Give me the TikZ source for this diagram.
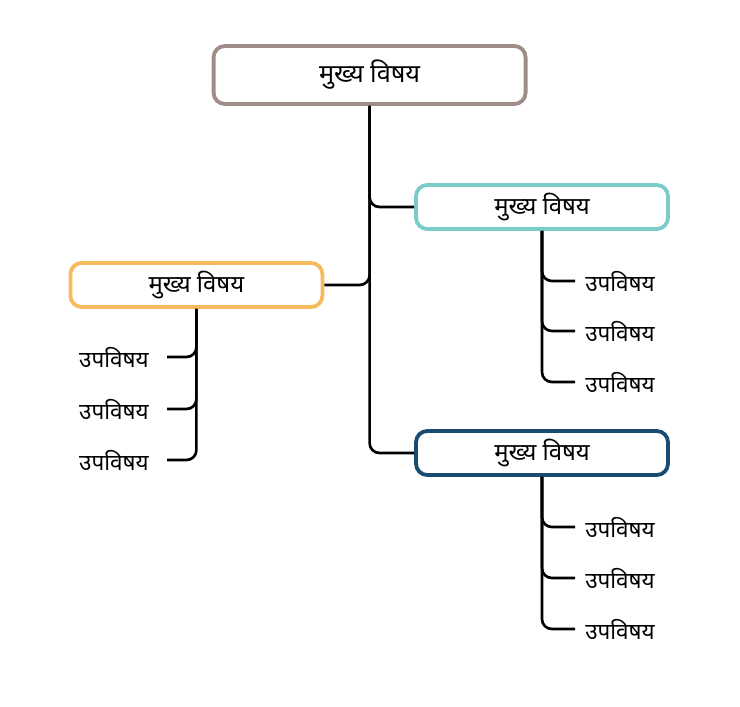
\documentclass[tikz,border=0pt]{standalone}
\usepackage{fontspec}
\usepackage{tikz}
\usetikzlibrary{positioning}
\newfontfamily\devfont[Script=Devanagari]{Noto Sans}
\definecolor{mmRoot}{HTML}{A08D88}
\definecolor{mmTeal}{HTML}{7ACCCB}
\definecolor{mmOrange}{HTML}{F6BB5D}
\definecolor{mmNavy}{HTML}{1A4B70}

\begin{document}
\begin{tikzpicture}[font=\devfont,
  topic/.style={draw,fill=white,rounded corners=8pt,line width=2.7pt,
            minimum width=6.3cm,minimum height=1.1cm,font=\devfont\fontsize{17}{19}\selectfont},
  sub/.style={inner sep=0.25cm,font=\devfont\fontsize{16}{18}\selectfont},
  c/.style={black,line width=1.9pt,rounded corners=7pt}]
\useasboundingbox (0,0) rectangle (18.5,-17.675);
\node[topic,draw=mmRoot,minimum width=7.8cm,minimum height=1.45cm,
      font=\devfont\fontsize{18}{20}\selectfont] (root) at (9.24,-1.875) {मुख्य विषय};
\node[topic,draw=mmTeal] (t1) at (13.55,-5.175) {मुख्य विषय};
\node[topic,draw=mmOrange] (t2) at (4.91,-7.125) {मुख्य विषय};
\node[topic,draw=mmNavy] (t3) at (13.55,-11.325) {मुख्य विषय};
% subtopics
\node[sub,anchor=west] (s11) at (14.375,-7.025) {उपविषय};
\node[sub,anchor=west] (s12) at (14.375,-8.275) {उपविषय};
\node[sub,anchor=west] (s13) at (14.375,-9.55) {उपविषय};
\node[sub,anchor=east,inner xsep=0.45cm] (s21) at (4.175,-8.925) {उपविषय};
\node[sub,anchor=east,inner xsep=0.45cm] (s22) at (4.175,-10.225) {उपविषय};
\node[sub,anchor=east,inner xsep=0.45cm] (s23) at (4.175,-11.5) {उपविषय};
\node[sub,anchor=west] (s31) at (14.375,-13.175) {उपविषय};
\node[sub,anchor=west] (s32) at (14.375,-14.45) {उपविषय};
\node[sub,anchor=west] (s33) at (14.375,-15.725) {उपविषय};
\draw[c] (root.south) |- (t1.west);
\draw[c] (root.south) |- (t2.east);
\draw[c] (root.south) |- (t3.west);
\foreach \s in {s11,s12,s13} \draw[c] (t1.south) |- (\s.west);
\foreach \s in {s21,s22,s23} \draw[c] (t2.south) |- (\s.east);
\foreach \s in {s31,s32,s33} \draw[c] (t3.south) |- (\s.west);
\end{tikzpicture}
\end{document}
